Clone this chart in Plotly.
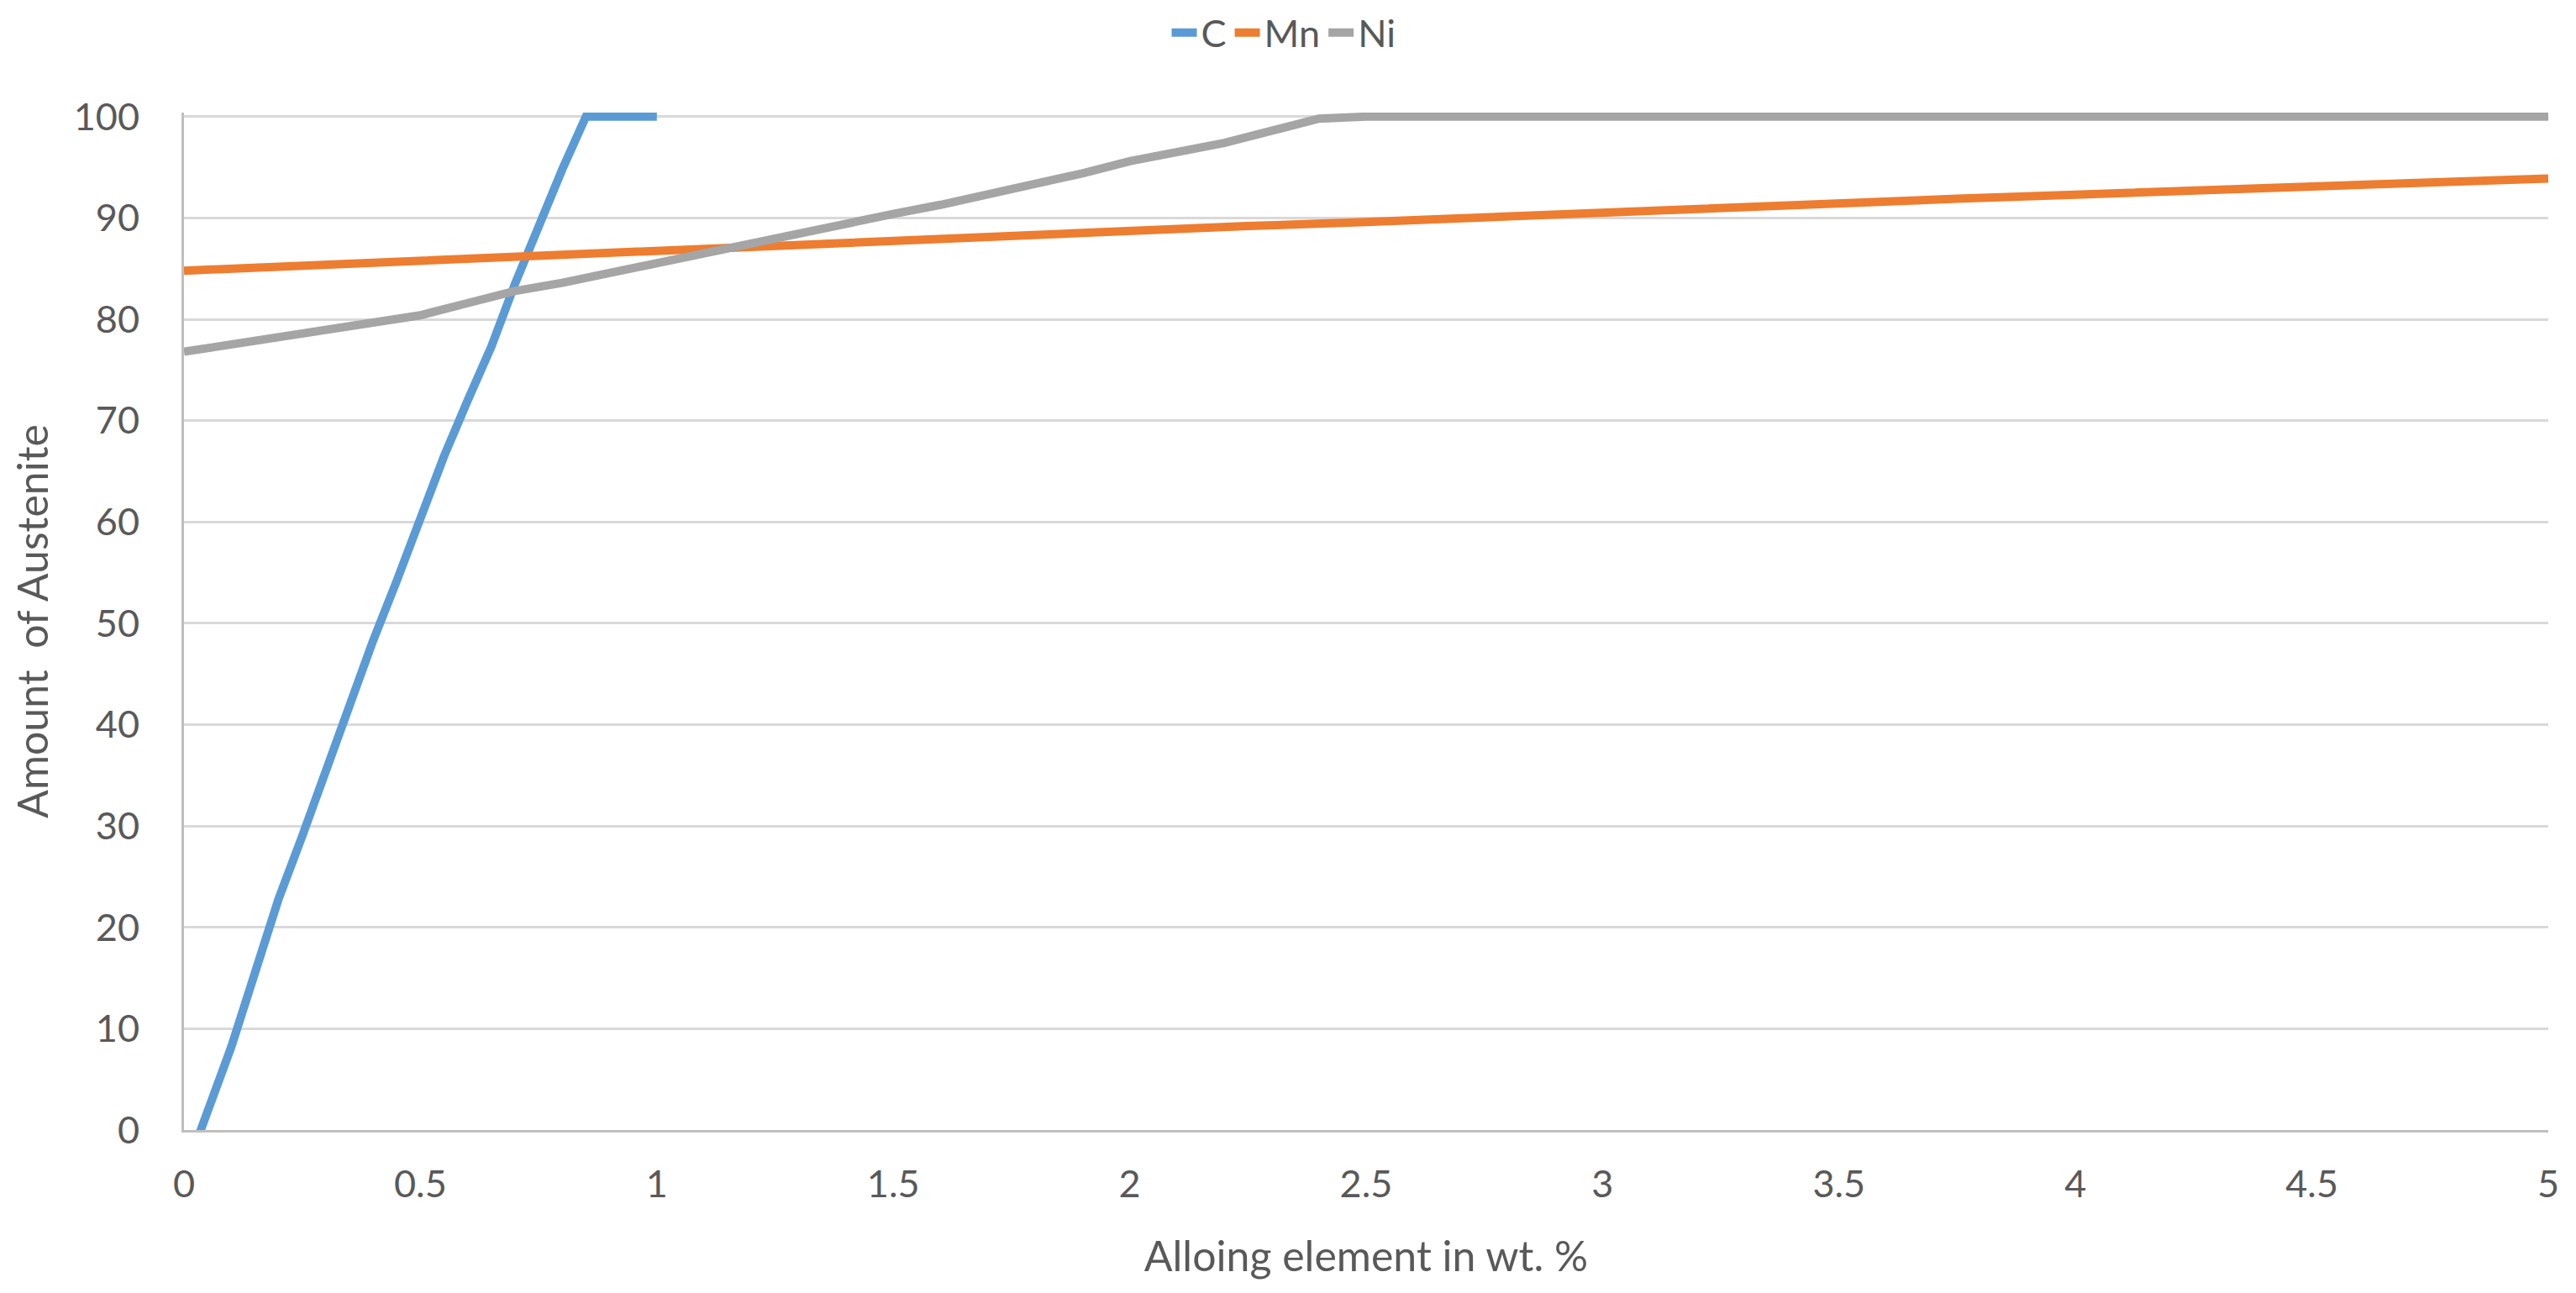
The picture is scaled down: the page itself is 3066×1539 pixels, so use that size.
import plotly.graph_objects as go

# ---- data ----
c_x = [0, 0.05, 0.1, 0.15, 0.2, 0.25, 0.3, 0.35, 0.4, 0.45, 0.5, 0.55, 0.6, 0.65, 0.7, 0.75, 0.8, 0.85, 0.9, 0.95, 1.0]
c_y = [-4.5, 1.7, 8.2, 15.5, 22.8, 29.0, 35.5, 42.0, 48.3, 54.2, 60.5, 66.5, 72.0, 77.3, 83.5, 89.2, 94.8, 100, 100, 100, 100]

mn_x = [0, 0.25, 0.5, 0.75, 1.0, 1.25, 1.5, 1.75, 2.0, 2.25, 2.5, 2.75, 3.0, 3.25, 3.5, 3.75, 4.0, 4.25, 4.5, 4.75, 5.0]
mn_y = [84.8, 85.3, 85.8, 86.3, 86.9, 87.4, 87.9, 88.3, 88.7, 89.2, 89.6, 90.1, 90.5, 91.0, 91.4, 91.9, 92.3, 92.7, 93.1, 93.5, 93.9]

ni_x = [0, 0.1, 0.2, 0.3, 0.4, 0.5, 0.6, 0.7, 0.8, 0.9, 1.0, 1.1, 1.2, 1.3, 1.4, 1.5, 1.6, 1.7, 1.8, 1.9,
        2.0, 2.1, 2.2, 2.3, 2.4, 2.5, 3.0, 3.5, 4.0, 4.5, 5.0]
ni_y = [76.8, 77.5, 78.2, 78.9, 79.6, 80.4, 81.6, 82.8, 83.6, 84.6, 85.4, 86.4, 87.4, 88.5, 89.4, 90.4, 91.3, 92.3, 93.4, 94.4,
        95.6, 96.4, 97.4, 98.6, 99.8, 100, 100, 100, 100, 100, 100]

series_names = ["C", "Mn", "Ni"]
series_colors = ["#5B9BD5", "#ED7D31", "#A5A5A5"]

x_ticks = [0, 0.5, 1, 1.5, 2, 2.5, 3, 3.5, 4, 4.5, 5]
x_tick_labels = ["0", "0.5", "1", "1.5", "2", "2.5", "3", "3.5", "4", "4.5", "5"]
y_ticks = [0, 10, 20, 30, 40, 50, 60, 70, 80, 90, 100]

x_title = "Alloing element in wt. %"
y_title = "Amount\u00a0\u00a0of Austenite"

FONT = "Lato, Liberation Sans, Arial, sans-serif"
TEXT = "#595959"

# page has an 8px body margin: figure is sized to fit the 3066x1539 window exactly
W, H = 3050, 1523

fig = go.Figure()
for name, xs, ys, col in zip(series_names, [c_x, mn_x, ni_x], [c_y, mn_y, ni_y], series_colors):
    fig.add_trace(go.Scatter(
        x=xs, y=ys, name=name, mode="lines",
        line=dict(color=col, width=10),
    ))

fig.update_layout(
    width=W, height=H,
    paper_bgcolor="white", plot_bgcolor="white",
    margin=dict(l=211, r=25, t=126, b=186, autoexpand=False),
    font=dict(family=FONT, size=45, color=TEXT),
    showlegend=True,
    legend=dict(
        orientation="h", xref="container", yref="container",
        x=1520 / W, xanchor="center", y=1 - 31 / H, yanchor="middle",
        font=dict(family=FONT, size=45, color=TEXT),
        bgcolor="rgba(0,0,0,0)",
        traceorder="normal",
    ),
    xaxis=dict(
        range=[0, 5], tickvals=x_ticks, ticktext=x_tick_labels,
        showgrid=False, zeroline=False,
        showline=True, linecolor="#BFBFBF", linewidth=3,
        ticks="", ticklabelstandoff=23,
        tickfont=dict(family=FONT, size=45, color=TEXT),
        title=dict(text=x_title, font=dict(family=FONT, size=50, color=TEXT), standoff=44),
        automargin=False,
    ),
    yaxis=dict(
        range=[0, 100.4], tickvals=y_ticks,
        showgrid=True, gridcolor="#D9D9D9", gridwidth=2.5,
        zeroline=False,
        showline=True, linecolor="#BFBFBF", linewidth=3,
        ticks="", ticklabelstandoff=41,
        tickfont=dict(family=FONT, size=45, color=TEXT),
        title=dict(text=y_title, font=dict(family=FONT, size=50, color=TEXT), standoff=31),
        automargin=False,
    ),
)

fig.write_html("out.html")
